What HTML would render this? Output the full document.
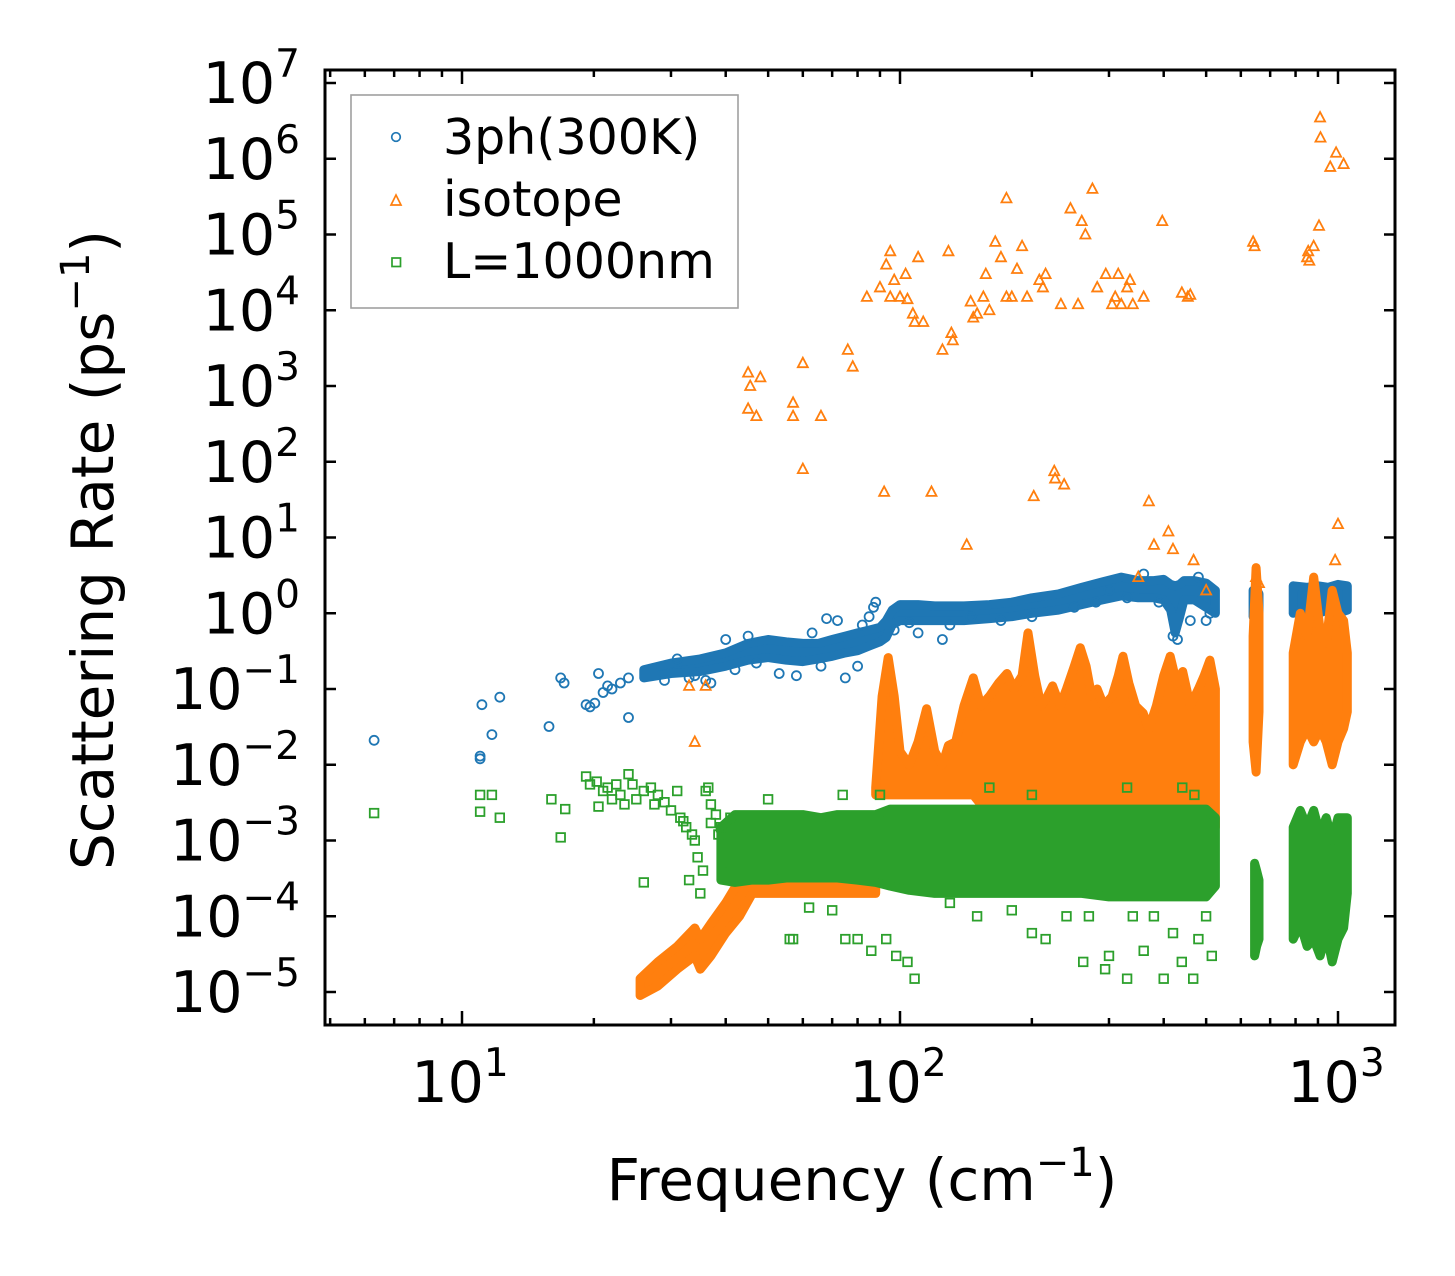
<!DOCTYPE html>
<html><head><meta charset="utf-8"><style>
html,body{margin:0;padding:0;background:#fff;}
svg{display:block;font-family:"DejaVu Sans","Liberation Sans",sans-serif;}
</style></head><body>
<svg id="chart" width="1455" height="1276" viewBox="0 0 1455 1276" xmlns="http://www.w3.org/2000/svg">
<defs><clipPath id="clip"><rect x="325" y="70" width="1070" height="955"/></clipPath></defs>
<rect x="0" y="0" width="1455" height="1276" fill="#fff"/>
<g id="plot" clip-path="url(#clip)"></g>
<g id="axes"></g>
<g>
<rect x="351" y="95" width="387" height="213" fill="#fff" stroke="#a0a0a0" stroke-width="1.6"/>
<circle cx="396" cy="137" r="4.3" fill="none" stroke="#1f77b4" stroke-width="1.7"/>
<text x="443" y="154" font-size="49">3ph(300K)</text>
<polygon points="396,195 401,205 391,205" fill="none" stroke="#ff7f0e" stroke-width="1.7"/>
<text x="443" y="216" font-size="49">isotope</text>
<rect x="392" y="258" width="8.5" height="8.5" fill="none" stroke="#2ca02c" stroke-width="1.7"/>
<text x="443" y="278" font-size="49">L=1000nm</text>
</g>
<text x="862" y="1200" font-size="58" text-anchor="middle">Frequency (cm<tspan font-size="40" dy="-24">−1</tspan><tspan dy="24">)</tspan></text>
<text transform="translate(113,550) rotate(-90)" font-size="58" text-anchor="middle">Scattering Rate (ps<tspan font-size="40" dy="-24">−1</tspan><tspan dy="24">)</tspan></text>
</svg>
<script>
// ---------- data ----------
const blueEnvFreq = [[26,30,35,40,45,50,55,60,65,70,75,80,85,90,93,96,100,110,120,140,160,180,200,230,260,290,320,350,380,400,415,425,435,445,470,500,525],[640,650,660],[790,850,900,950,1000,1050]];
const blueEnvHi = [[0.18,0.22,0.25,0.3,0.4,0.45,0.42,0.4,0.4,0.45,0.5,0.55,0.6,0.65,0.8,1.1,1.3,1.3,1.25,1.25,1.3,1.4,1.6,1.8,2.2,2.6,3.0,2.7,2.7,2.8,2.4,2.3,2.4,2.7,2.7,2.5,2.0],[2.0,2.1,1.8],[2.3,2.2,2.3,2.2,2.4,2.3]];
const blueEnvLo = [[0.14,0.16,0.17,0.2,0.24,0.26,0.24,0.23,0.25,0.27,0.3,0.32,0.37,0.42,0.48,0.7,0.8,0.8,0.8,0.8,0.85,0.9,1.0,1.1,1.3,1.5,1.7,1.6,1.6,1.5,1.1,0.55,0.9,1.5,1.5,1.2,1.0],[0.9,1.0,1.0],[1.0,1.1,1.0,1.1,1.0,1.1]];
const orangeEnvFreq = [[88,91,94,97,100,105,110,115,120,125,129,134,140,147,153,160,168,175.5,182,190,196,203,210,217,223,232,240,250,258,266,274,282,292,305,315,323,333,345,359,370,385,400,414,428,442,460,480,495,510,525],[640,650,660],[790,820,850,880,910,940,970,1000,1030,1050],[25.5,28,31,34,35,37,40,43,46,50,55,60,70,80,88]];
const orangeEnvHi = [[0.005,0.08,0.26,0.08,0.015,0.01,0.02,0.055,0.015,0.01,0.018,0.02,0.06,0.14,0.06,0.08,0.12,0.16,0.1,0.15,0.55,0.15,0.06,0.08,0.11,0.06,0.1,0.2,0.35,0.2,0.08,0.1,0.06,0.08,0.15,0.27,0.12,0.06,0.048,0.03,0.06,0.15,0.27,0.12,0.17,0.06,0.1,0.15,0.24,0.1],[0.5,4,1],[0.3,1,0.5,3,0.6,0.4,2,1,0.8,0.3],[1.5e-5,2.5e-5,4e-5,7e-5,5e-5,8e-5,1.5e-4,3e-4,6e-4,8e-4,9e-4,1e-3,1e-3,1e-3,1e-3]];
const orangeEnvLo = [[0.004,0.004,0.004,0.004,0.004,0.004,0.004,0.004,0.004,0.004,0.004,0.004,0.004,0.004,0.003,0.0015,0.0015,0.0015,0.0015,0.0015,0.0015,0.0015,0.0015,0.0015,0.0015,0.0015,0.0015,0.0015,0.0015,0.0015,0.0015,0.0015,0.0015,0.0015,0.0015,0.0015,0.0015,0.0015,0.0015,0.0015,0.0015,0.0015,0.0015,0.0015,0.0015,0.0015,0.0015,0.0015,0.0015,0.0015],[0.02,0.008,0.05],[0.01,0.02,0.03,0.02,0.03,0.02,0.01,0.02,0.03,0.05],[0.9e-5,1.2e-5,2e-5,3e-5,2e-5,3e-5,6e-5,1e-4,2e-4,2e-4,2e-4,2e-4,2e-4,2e-4,2e-4]];
const greenEnvFreq = [[39,42,46,50,55,60,66,72,80,88,95,105,120,140,160,180,200,230,260,300,340,380,420,460,500,525],[645,652,660],[790,820,850,880,910,940,970,1000,1030,1050]];
const greenEnvHi = [[1.5e-3,2.2e-3,2.2e-3,2.2e-3,2.2e-3,2.2e-3,2e-3,2.2e-3,2.2e-3,2.2e-3,2.6e-3,2.6e-3,2.6e-3,2.6e-3,2.6e-3,2.6e-3,2.6e-3,2.6e-3,2.6e-3,2.6e-3,2.6e-3,2.6e-3,2.6e-3,2.6e-3,2.6e-3,2e-3],[5e-4,4e-4,3e-4],[1.5e-3,2.5e-3,1.5e-3,2.5e-3,1.2e-3,2e-3,1e-3,2e-3,2e-3,2e-3]];
const greenEnvLo = [[3e-4,2.8e-4,3e-4,3e-4,3.2e-4,3.2e-4,3.2e-4,3.2e-4,3e-4,2.8e-4,2.5e-4,2.2e-4,2e-4,2e-4,2e-4,2e-4,2e-4,2e-4,2e-4,1.8e-4,1.8e-4,1.8e-4,1.8e-4,1.8e-4,1.8e-4,2.5e-4],[3e-5,4e-5,5e-5],[5e-5,8e-5,4e-5,5e-5,3e-5,6e-5,2.5e-5,5e-5,7e-5,2e-4]];
const blueFreq = [6.3,11,11,11.1,11.7,12.2,15.8,16.8,17.1,19.2,19.6,20.1,20.5,21,21.5,22,23,24,24,33,36,37,40,45,53,58,68,72,85,87,88,75,80,94,110,125,145,200,300,420,430,460,500,29,31,34,42,47,63,66,82,97,105,130,170,250,280,330,360,390,480,510];
const blueRate = [0.021,0.012,0.013,0.062,0.025,0.078,0.032,0.14,0.12,0.062,0.058,0.065,0.16,0.09,0.11,0.1,0.12,0.042,0.14,0.14,0.13,0.12,0.45,0.5,0.16,0.15,0.85,0.8,0.9,1.2,1.4,0.14,0.2,0.2,0.55,0.45,0.9,0.9,2.0,0.5,0.45,0.8,0.8,0.13,0.25,0.15,0.18,0.22,0.55,0.2,0.7,0.6,0.75,0.7,0.8,1.2,1.4,1.6,3.3,1.4,3.0,1.0];
const orangeFreq = [33,36,34,45,45,45.5,47,48,57,57,60,60,66,76,78,84,90,92,93,95,95,97,100,103,104,107,108,110,113,118,125,129,131,132,142,145,147,150,155,157,160,165,170,175,175,180,185,190,195,202,208,212,215,225,226,233,237,245,255,260,265,275,282,295,305,310,315,320,330,335,340,350,360,370,380,397,410,420,440,454,460,468,500,640,645,650,660,850,855,860,880,905,910,912,990,1030,960,985,1000];
const orangeRate = [0.11,0.11,0.02,500,1500,1000,400,1300,600,400,80,2000,400,3000,1800,15000,20000,40,40000,60000,15000,25000,15000,30000,14000,9000,7000,50000,7000,40,3000,60000,5000,4000,8,13000,8000,9000,15000,30000,10000,80000,50000,300000,15000,15000,35000,70000,15000,35,25000,20000,30000,75,60,12000,50,220000,12000,150000,100000,400000,20000,30000,12000,15000,30000,12000,20000,25000,12000,3,15000,30,8,150000,12,7,17000,15000,16000,5,2,80000,70000,3,2.5,50000,60000,45000,70000,130000,3500000,1900000,1200000,850000,780000,5,15,8];
const greenFreq = [6.3,11,11,11.7,12.2,16,16.8,17.2,19.2,19.6,20.3,20.5,21,21.5,22,22.5,23,23.5,24,24.5,25,26,26,27,27.5,28,29,30,31,31.5,32,32.5,33,33.5,34,34.5,35,35.5,36,36.5,37,37,38,38.5,39,39.5,41,43,50,56,57,62,70,75,80,86,93,98,104,108,130,150,180,200,215,240,262,270,294,300,330,340,360,380,400,420,440,467,480,500,515,74,90,160,200,330,441,470];
const greenRate = [2.3e-3,4e-3,2.4e-3,4e-3,2e-3,3.5e-3,1.1e-3,2.6e-3,7e-3,5.5e-3,6e-3,2.8e-3,4.5e-3,5e-3,3.5e-3,5.5e-3,4e-3,3e-3,7.5e-3,5.5e-3,3.5e-3,2.8e-4,4.5e-3,5e-3,3e-3,4e-3,3.2e-3,2.5e-3,4.5e-3,2e-3,1.8e-3,1.5e-3,3e-4,1.2e-3,1e-3,6e-4,2e-4,4e-4,4.5e-3,5e-3,3e-3,1.7e-3,2.2e-3,1.2e-3,1.5e-3,4e-4,2e-3,1.5e-3,3.5e-3,5e-5,5e-5,1.3e-4,1.2e-4,5e-5,5e-5,3.5e-5,5e-5,3e-5,2.5e-5,1.5e-5,1.5e-4,1e-4,1.2e-4,6e-5,5e-5,1e-4,2.5e-5,1e-4,2e-5,3e-5,1.5e-5,1e-4,3.5e-5,1e-4,1.5e-5,6e-5,2.5e-5,1.5e-5,5e-5,1e-4,3e-5,4e-3,4e-3,5e-3,4e-3,5e-3,5e-3,4e-3];
const yTicks = [-5,-4,-3,-2,-1,0,1,2,3,4,5,6,7];
const xTicks = [1,2,3];

// ---------- axis functions ----------
const X = f => 462 + 438*(Math.log10(f)-1);
const Y = r => 83 + 75.75*(7-Math.log10(r));
const NS = "http://www.w3.org/2000/svg";
const plot = document.getElementById('plot');
const axes = document.getElementById('axes');
function mk(tag, attrs, parent){ const e=document.createElementNS(NS,tag); for(const k in attrs) e.setAttribute(k,attrs[k]); parent.appendChild(e); return e; }

function envelope(freqs, his, los, color, name){
  for(let s=0;s<freqs.length;s++){
    const pts=[];
    for(let i=0;i<freqs[s].length;i++) pts.push(X(freqs[s][i]).toFixed(1)+','+Y(his[s][i]).toFixed(1));
    for(let i=freqs[s].length-1;i>=0;i--) pts.push(X(freqs[s][i]).toFixed(1)+','+Y(los[s][i]).toFixed(1));
    const p=mk('polygon',{points:pts.join(' '),fill:color,stroke:color,'stroke-width':9,'stroke-linejoin':'round'},plot);
    
    
  }
}
function circles(fs, rs){
  for(let i=0;i<fs.length;i++){
    const c=mk('circle',{cx:X(fs[i]).toFixed(1),cy:Y(rs[i]).toFixed(1),r:4.5,fill:'none',stroke:'#1f77b4','stroke-width':1.8},plot);
    
    
  }
}
function triangles(fs, rs){
  for(let i=0;i<fs.length;i++){
    const x=X(fs[i]), y=Y(rs[i]);
    const t=mk('polygon',{points:`${x},${y-5.5} ${x+5},${y+4} ${x-5},${y+4}`,fill:'none',stroke:'#ff7f0e','stroke-width':1.8},plot);
    
    
  }
}
function squares(fs, rs){
  for(let i=0;i<fs.length;i++){
    const s=mk('rect',{x:(X(fs[i])-4.3).toFixed(1),y:(Y(rs[i])-4.3).toFixed(1),width:8.6,height:8.6,fill:'none',stroke:'#2ca02c','stroke-width':1.8},plot);
    
    
  }
}
envelope(blueEnvFreq, blueEnvHi, blueEnvLo, '#1f77b4', '3ph');
circles(blueFreq, blueRate);
envelope(orangeEnvFreq, orangeEnvHi, orangeEnvLo, '#ff7f0e', 'isotope');
triangles(orangeFreq, orangeRate);
envelope(greenEnvFreq, greenEnvHi, greenEnvLo, '#2ca02c', 'boundary');
squares(greenFreq, greenRate);

// ---------- axes ----------
const L=325,R=1395,T=70,B=1025;
const frame=mk('rect',{x:L,y:T,width:R-L,height:B-T,fill:'none',stroke:'#000','stroke-width':3},axes);


yTicks.forEach(e=>{
  const y=Y(Math.pow(10,e));
  mk('line',{x1:L,x2:L+11,y1:y,y2:y,stroke:'#000','stroke-width':2.5},axes);
  mk('line',{x1:R,x2:R-11,y1:y,y2:y,stroke:'#000','stroke-width':2.5},axes);
  const t=mk('text',{x:300,y:y+20,'font-size':57,'text-anchor':'end'},axes);
  
  
  const lab = e<0 ? '\u2212'+(-e) : String(e);
  t.innerHTML = '10<tspan font-size="39" dy="-26">'+lab+'</tspan>';
});
for(let d=0; d<=3; d++){
  for(let m=1;m<10;m++){
    const f=m*Math.pow(10,d);
    const x=X(f);
    if(x<L+1||x>R-1) continue;
    const major = m===1;
    const len = major?14:7;
    mk('line',{x1:x,x2:x,y1:B,y2:B-len,stroke:'#000','stroke-width':2.5},axes);
    mk('line',{x1:x,x2:x,y1:T,y2:T+len,stroke:'#000','stroke-width':2.5},axes);
  }
}
xTicks.forEach(e=>{
  const x=X(Math.pow(10,e));
  const t=mk('text',{x:x-2,y:1102,'font-size':57,'text-anchor':'middle'},axes);
  
  
  t.innerHTML = '10<tspan font-size="39" dy="-26">'+e+'</tspan>';
});
</script>
</body></html>
